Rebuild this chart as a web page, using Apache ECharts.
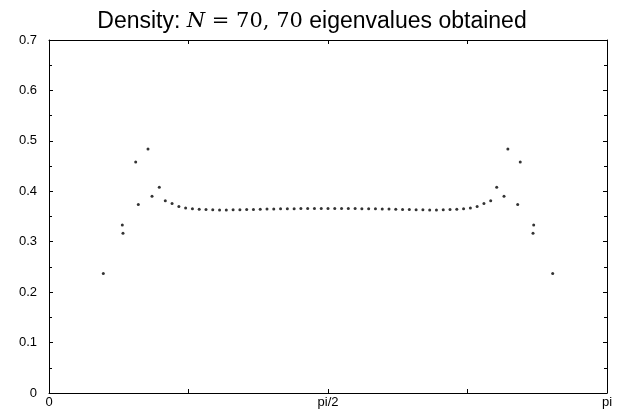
<!DOCTYPE html>
<html>
<head>
<meta charset="utf-8">
<script src="https://cdn.jsdelivr.net/npm/echarts@6/dist/echarts.min.js"></script>
<style>
  html, body { margin: 0; padding: 0; background: #fff; }
  #chart { width: 624px; height: 415px; }
</style>
</head>
<body>
<div id="chart"></div>
<script>
// eigenvalue positions (radians) and local density
const xs = [
  0.3057, 0.4127, 0.4166, 0.4881, 0.5028, 0.5574, 0.5799, 0.6210,
  0.6548, 0.6930, 0.7311, 0.7693, 0.8075, 0.8457, 0.8838, 0.9220,
  0.9602, 0.9983, 1.0365, 1.0747, 1.1129, 1.1510, 1.1892, 1.2274,
  1.2655, 1.3037, 1.3419, 1.3801, 1.4182, 1.4564, 1.4946, 1.5327,
  1.5708,
  1.6089, 1.6470, 1.6852, 1.7234, 1.7615, 1.7997, 1.8379, 1.8761,
  1.9142, 1.9524, 1.9906, 2.0287, 2.0669, 2.1051, 2.1433, 2.1814,
  2.2196, 2.2578, 2.2959, 2.3341, 2.3723, 2.4105, 2.4486, 2.4868,
  2.5206, 2.5617, 2.5834, 2.6388, 2.6531, 2.7250, 2.7289, 2.8359
]
const density = [
  0.237, 0.333, 0.317, 0.458, 0.374, 0.484, 0.390, 0.408,
  0.381, 0.376, 0.370, 0.367, 0.3655, 0.3645, 0.3637, 0.3632,
  0.3630, 0.3630, 0.3632, 0.3635, 0.3638, 0.3641, 0.3644, 0.3647,
  0.3650, 0.3652, 0.3654, 0.3656, 0.3657, 0.3658, 0.3659, 0.3660,
  0.3660,
  0.3660, 0.3659, 0.3658, 0.3657, 0.3656, 0.3654, 0.3652, 0.3650,
  0.3647, 0.3644, 0.3641, 0.3638, 0.3635, 0.3632, 0.3630, 0.3630,
  0.3632, 0.3637, 0.3645, 0.3655, 0.367, 0.370, 0.376, 0.381,
  0.408, 0.390, 0.484, 0.374, 0.458, 0.317, 0.333, 0.237
]
const xTickNames = ['0', '', 'pi/2', '', 'pi']

const chart = echarts.init(document.getElementById('chart'))

const axisFont = { fontFamily: 'Liberation Sans', fontSize: 13, color: '#000' }
const line = { show: true, onZero: false, lineStyle: { color: '#000', width: 1 } }
const tick = { inside: true, length: 4, lineStyle: { color: '#000' } }
const minor = { show: true, splitNumber: 2, length: 3, lineStyle: { color: '#000' } }

chart.setOption({
  animation: false,
  title: {
    text: '{a|Density: }{m|N}{s| = 70, 70}{a| eigenvalues obtained}',
    left: 'center',
    top: 5,
    textStyle: {
      rich: {
        a: { fontFamily: 'Liberation Sans', fontSize: 23, fontWeight: 'normal', color: '#000' },
        m: { fontFamily: 'DejaVu Serif', fontStyle: 'italic', fontSize: 21, fontWeight: 'normal', color: '#000' },
        s: { fontFamily: 'DejaVu Serif', fontSize: 21, fontWeight: 'normal', color: '#000' }
      }
    }
  },
  grid: { left: 49, right: 17, top: 40, bottom: 22 },
  xAxis: [{
    type: 'value',
    position: 'bottom',
    min: 0,
    max: Math.PI,
    interval: Math.PI / 4,
    axisLine: line,
    axisTick: tick,
    splitLine: { show: false },
    axisLabel: {
      ...axisFont,
      margin: 3,
      showMinLabel: true,
      showMaxLabel: true,
      formatter: v => xTickNames[Math.round(v / (Math.PI / 4))] || ''
    }
  }, {
    type: 'value',
    position: 'top',
    min: 0,
    max: Math.PI,
    interval: Math.PI / 4,
    axisLine: line,
    axisTick: tick,
    splitLine: { show: false },
    axisLabel: { show: false }
  }],
  yAxis: [{
    type: 'value',
    position: 'left',
    min: 0,
    max: 0.7,
    interval: 0.1,
    axisLine: line,
    axisTick: tick,
    minorTick: minor,
    splitLine: { show: false },
    axisLabel: { ...axisFont, margin: 12 }
  }, {
    type: 'value',
    position: 'right',
    min: 0,
    max: 0.7,
    interval: 0.1,
    axisLine: line,
    axisTick: tick,
    minorTick: minor,
    splitLine: { show: false },
    axisLabel: { show: false }
  }],
  series: [{
    type: 'scatter',
    symbol: 'circle',
    symbolSize: 3,
    itemStyle: { color: '#000' },
    data: xs.map((x, i) => [x, density[i]])
  }]
})
</script>
</body>
</html>
